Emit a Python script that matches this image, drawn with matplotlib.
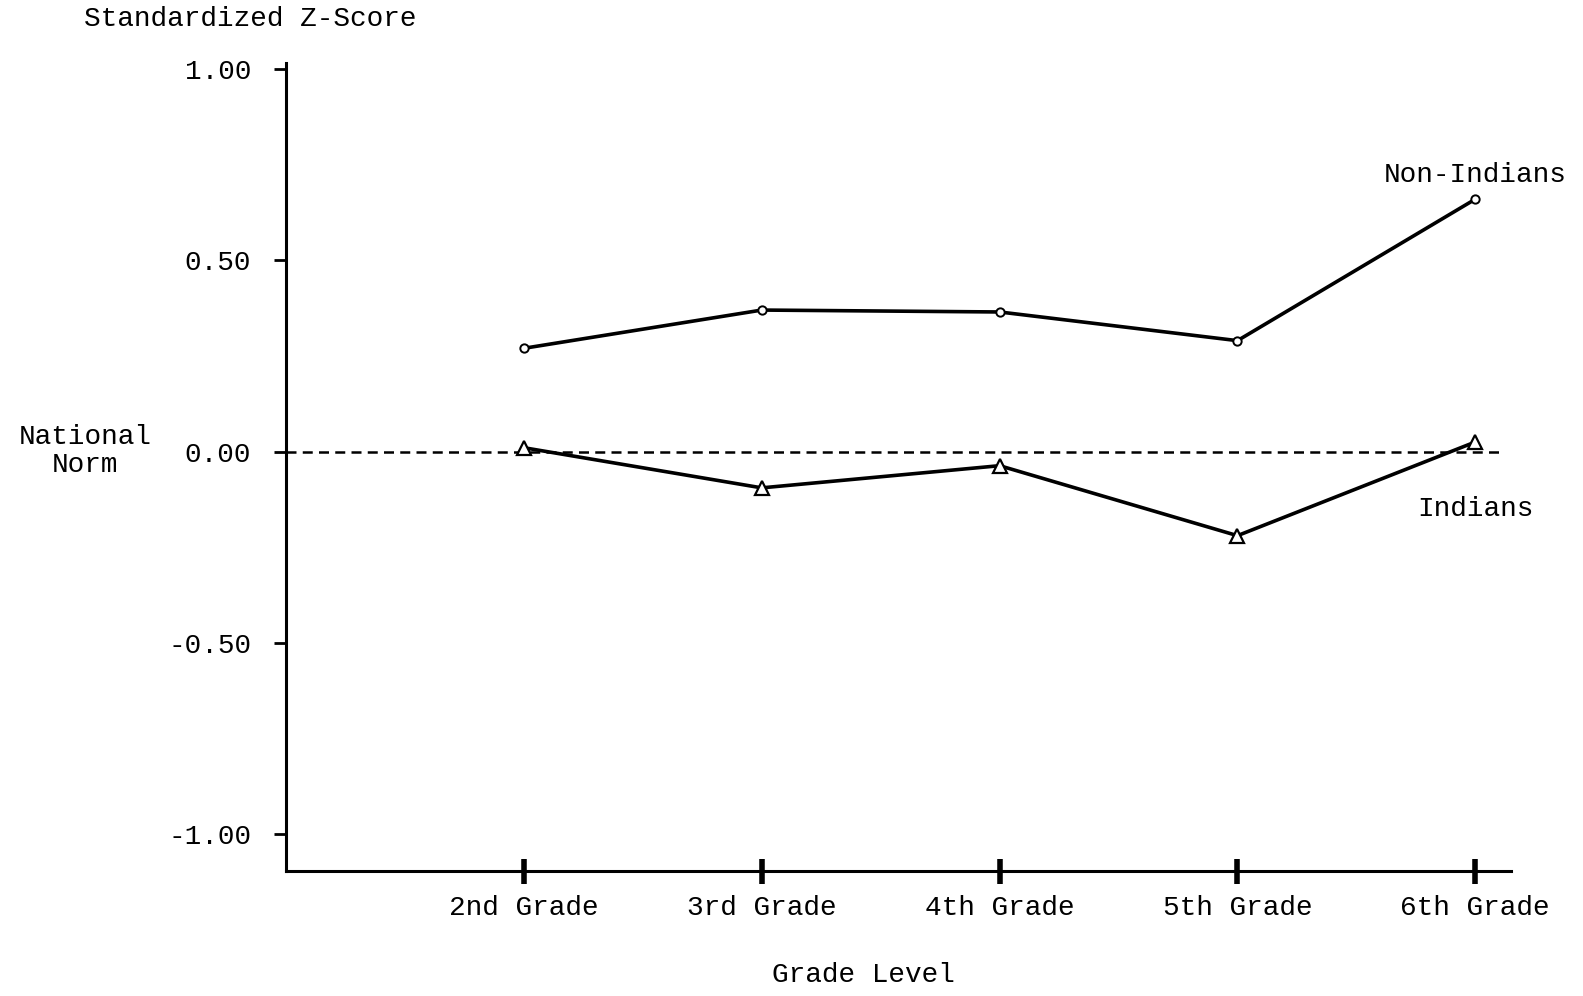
import matplotlib
matplotlib.use("Agg")
from matplotlib import pyplot as plt

# Data
grades = [2, 3, 4, 5, 6]
grade_labels = ['2nd Grade', '3rd Grade', '4th Grade', '5th Grade', '6th Grade']
non_indians = [0.27, 0.37, 0.365, 0.29, 0.66]
indians = [0.01, -0.095, -0.037, -0.22, 0.025]
y_ticks = [1.0, 0.5, 0.0, -0.5, -1.0]

plt.rcParams['font.family'] = ['Liberation Mono', 'DejaVu Sans Mono']
fs = 20

fig = plt.figure(figsize=(15.83, 9.96), dpi=100)
ax = fig.add_axes([0.1807, 0.1255, 0.7738, 0.8112])

ax.plot(grades, non_indians, color='black', lw=2.6, marker='o', ms=6,
        mfc='white', mec='black', mew=1.4, zorder=3)
ax.plot(grades, indians, color='black', lw=2.6, marker='^', ms=10,
        mfc='white', mec='black', mew=1.6, zorder=3)
ax.plot([1.0, 6.1], [0, 0], color='black', lw=1.8, ls=(0, (4, 2.5)), zorder=2)

ax.set_xlim(1.0, 6.15)
ax.set_ylim(-1.097, 1.016)

ax.spines['top'].set_visible(False)
ax.spines['right'].set_visible(False)
ax.spines['left'].set_linewidth(2.2)
ax.spines['bottom'].set_linewidth(2.2)

ax.set_yticks(y_ticks)
ax.set_yticklabels(['%.2f' % v for v in y_ticks], fontsize=fs)
ax.tick_params(axis='y', direction='out', length=9, width=2, pad=16)
ax.set_xticks(grades)
ax.set_xticklabels(grade_labels, fontsize=fs)
ax.tick_params(axis='x', direction='inout', length=18, width=4, pad=8)

ax.text(6, 0.723, 'Non-Indians', ha='center', va='center', fontsize=fs)
ax.text(6, -0.151, 'Indians', ha='center', va='center', fontsize=fs)

fig.text(85 / 1583, 1 - 451 / 996, 'National\nNorm', ha='center', va='center',
         fontsize=fs, linespacing=1.1)
fig.text(84 / 1583, 1 - 19 / 996, 'Standardized Z-Score', ha='left', va='center',
         fontsize=fs)
fig.text(863 / 1583, 1 - 975 / 996, 'Grade Level', ha='center', va='center',
         fontsize=fs)

plt.savefig('out.png', dpi=100)
